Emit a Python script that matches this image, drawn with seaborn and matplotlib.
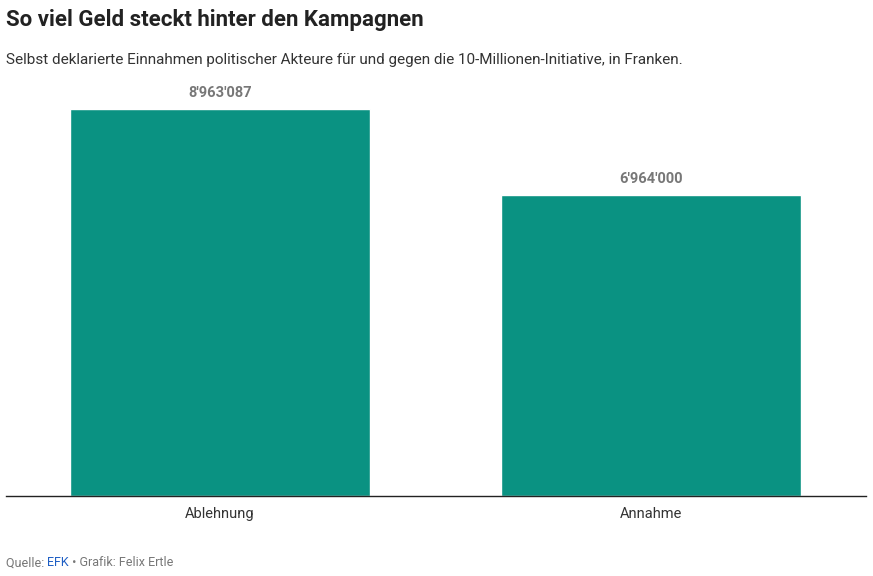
import matplotlib
matplotlib.use("Agg")
import matplotlib.pyplot as plt
import seaborn as sns
import pandas as pd

categories = ["Ablehnung", "Annahme"]
values = [8963087, 6964000]
value_labels = ["8'963'087", "6'964'000"]

sns.set_style("white")
plt.rcParams['font.family'] = ['Roboto', 'DejaVu Sans']

df = pd.DataFrame({"cat": categories, "val": values})

fig = plt.figure(figsize=(8.73, 5.76), dpi=100)
ax = fig.add_axes([6 / 873, 1 - 496 / 576, 860 / 873, 406 / 576])
sns.barplot(data=df, x="cat", y="val", color="#0a9282", saturation=1, width=0.696, ax=ax)
ax.set_ylim(0, 8963087 * 406 / 387)
ax.set_xlim(-0.497, 1.499)

for i, (v, lab) in enumerate(zip(values, value_labels)):
    ax.text(i, v + 9403000 * 0.022, lab, ha="center", va="bottom",
            fontsize=10.5, fontweight="bold", color="#777777")

ax.set_xlabel("")
ax.set_ylabel("")
ax.set_yticks([])
ax.tick_params(axis="x", length=0, labelsize=10.5, labelcolor="#333333", pad=8)
for s in ["top", "left", "right"]:
    ax.spines[s].set_visible(False)
ax.spines["bottom"].set_color("#222222")
ax.spines["bottom"].set_linewidth(1)

fig.text(6 / 873, 1 - 20 / 576, "So viel Geld steckt hinter den Kampagnen",
         fontsize=16, fontweight="bold", color="#222222", va="center")
fig.text(6 / 873, 1 - 60 / 576,
         "Selbst deklarierte Einnahmen politischer Akteure für und gegen die 10-Millionen-Initiative, in Franken.",
         fontsize=11, color="#333333", va="center")
t = fig.text(6 / 873, 1 - 563 / 576, "Quelle: ", fontsize=9, color="#777777", va="center")
fig.canvas.draw()
r = fig.canvas.get_renderer()
x1 = t.get_window_extent(r).x1 / fig.bbox.width
t2 = fig.text(x1, 1 - 563 / 576, "EFK", fontsize=9, color="#1f5fc4", va="center")
x2 = t2.get_window_extent(r).x1 / fig.bbox.width
fig.text(x2, 1 - 563 / 576, " • Grafik: Felix Ertle", fontsize=9, color="#777777", va="center")

fig.savefig("out.png", dpi=100)
